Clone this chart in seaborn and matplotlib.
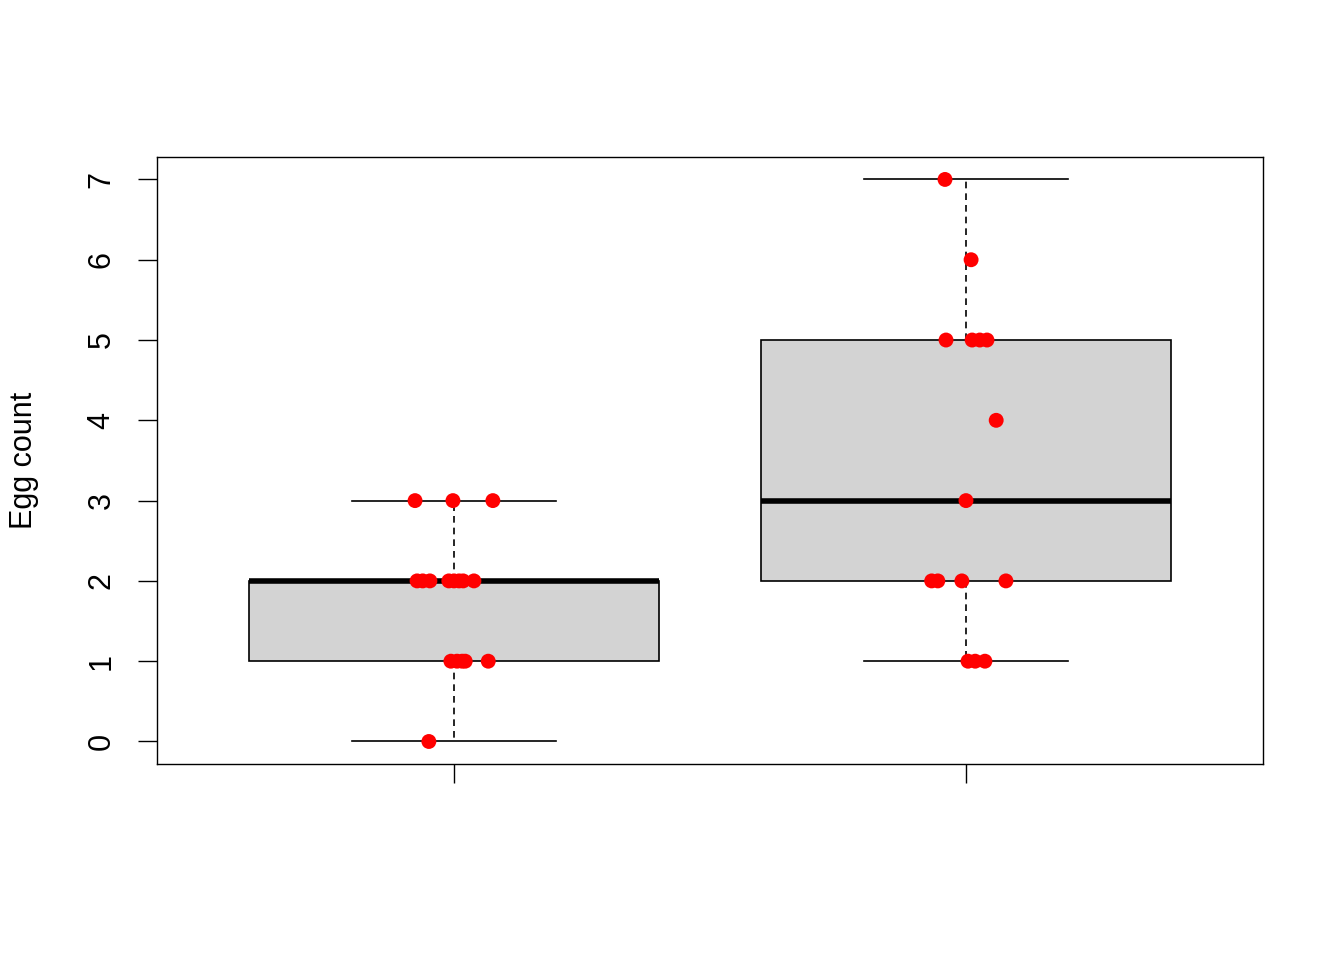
import matplotlib
matplotlib.use("Agg")
import matplotlib.pyplot as plt
import seaborn as sns
import pandas as pd
import numpy as np

# egg counts per group, with the horizontal jitter
group_a_counts = [0, 1, 1, 1, 1, 1, 2, 2, 2, 2, 2, 2, 2, 2, 3, 3, 3]
group_a_jitter = [-0.049, -0.006, 0.006, 0.016, 0.022, 0.067,
                  -0.072, -0.061, -0.047, -0.010, 0.0, 0.010, 0.018, 0.039,
                  -0.076, -0.002, 0.076]
group_b_counts = [1, 1, 1, 2, 2, 2, 2, 3, 4, 5, 5, 5, 5, 6, 7]
group_b_jitter = [0.004, 0.018, 0.037,
                  -0.067, -0.055, -0.008, 0.078,
                  0.0, 0.059,
                  -0.039, 0.012, 0.027, 0.041,
                  0.010, -0.041]
groups = ["A", "B"]

df = pd.DataFrame({
    "group": ["A"] * len(group_a_counts) + ["B"] * len(group_b_counts),
    "count": group_a_counts + group_b_counts,
    "jitter": group_a_jitter + group_b_jitter,
})
df["xpos"] = df["group"].map({g: i for i, g in enumerate(groups)}) + df["jitter"]

plt.rcParams["font.family"] = ["Liberation Sans", "DejaVu Sans"]

fig = plt.figure(figsize=(13.44, 9.6), dpi=100)
ax = fig.add_axes([0.1168, 0.2042, 0.8229, 0.6323])

sns.boxplot(data=df, x="group", y="count", order=groups, width=0.8,
            color="#d3d3d3", linecolor="black", linewidth=1.2,
            whis=1.5, showfliers=False, saturation=1, ax=ax,
            boxprops=dict(edgecolor="black"),
            medianprops=dict(linewidth=4, color="black", solid_capstyle="butt"),
            whiskerprops=dict(linestyle=(0, (4, 3)), linewidth=1.2),
            capprops=dict(linewidth=1.2))

sns.scatterplot(data=df, x="xpos", y="count", color="red", s=115,
                edgecolor="none", ax=ax, zorder=5)

ax.set_xlim(-0.58, 1.58)
ax.set_ylim(-0.28, 7.28)
ax.set_xticks([0, 1])
ax.set_xticklabels(["", ""])
ax.set_yticks(range(0, 8))
ax.set_yticklabels([str(i) for i in range(0, 8)], rotation=90, va="center",
                   fontsize=22)
ax.tick_params(axis="both", length=14, width=1.0, pad=15)
ax.set_xlabel("")
ax.set_ylabel("Egg count", fontsize=22, labelpad=34)
for sp in ax.spines.values():
    sp.set_linewidth(1.0)
    sp.set_color("black")

fig.savefig("out.png", dpi=100)
